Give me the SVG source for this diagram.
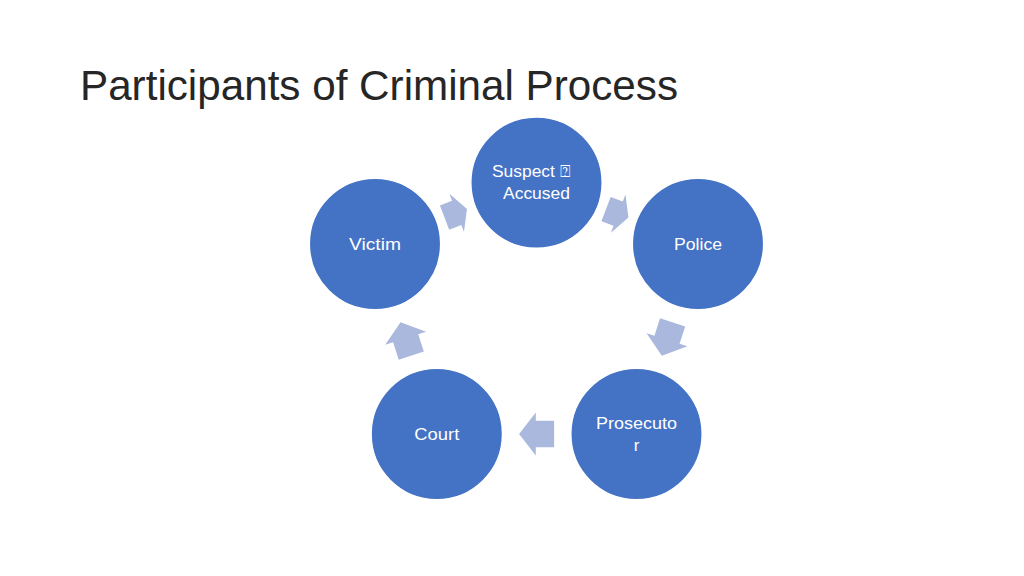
<svg xmlns="http://www.w3.org/2000/svg" width="1024" height="576" viewBox="0 0 1024 576">
<style>
.node{fill:#4472C4;stroke:#ffffff;stroke-width:1.5}
.lbl{font-family:"Liberation Sans",Arial,sans-serif;font-size:17px;fill:#ffffff;text-anchor:middle}
.arr{fill:#AAB8DD}
.title{font-family:"Liberation Sans",Arial,sans-serif;font-size:42px;fill:#262626}
</style>
<defs>
<polygon id="arrowLong" points="-17.5,-13.2 0.8,-13.2 0.8,-21.5 17.5,0 0.8,21.5 0.8,13.2 -17.5,13.2"/>
<polygon id="arrowShort" points="-12,-13 1,-13 1,-20.5 12,0 1,20.5 1,13 -12,13"/>
</defs>
<rect width="1024" height="576" fill="#ffffff"/>
<text class="title" x="80" y="100" textLength="598" lengthAdjust="spacingAndGlyphs">Participants of Criminal Process</text>
<g id="connectors">
<use href="#arrowShort" class="arr" transform="translate(455.75,213.3) rotate(-20.8)"/>
<use href="#arrowShort" class="arr" transform="translate(617.25,213.3) rotate(20.8)"/>
<use href="#arrowLong" class="arr" transform="translate(667.25,339) rotate(107.9)"/>
<use href="#arrowLong" class="arr" transform="translate(536.6,434) rotate(180)"/>
<use href="#arrowLong" class="arr" transform="translate(405.9,339) rotate(-107.9)"/>
</g>
<g id="node-suspect">
<circle class="node" cx="536.5" cy="182.6" r="65.7"/>
<text class="lbl" x="531" y="177" textLength="78" lengthAdjust="spacingAndGlyphs">Suspect <tspan font-family="'DejaVu Sans',sans-serif">⍰</tspan></text>
<text class="lbl" x="536.5" y="199" textLength="67" lengthAdjust="spacingAndGlyphs">Accused</text>
</g>
<g id="node-police">
<circle class="node" cx="698" cy="244" r="65.7"/>
<text class="lbl" x="698" y="250" textLength="48" lengthAdjust="spacingAndGlyphs">Police</text>
</g>
<g id="node-prosecutor">
<circle class="node" cx="636.5" cy="434" r="65.7"/>
<text class="lbl" x="636.5" y="429" textLength="81" lengthAdjust="spacingAndGlyphs">Prosecuto</text>
<text class="lbl" x="636.5" y="451">r</text>
</g>
<g id="node-court">
<circle class="node" cx="436.8" cy="434" r="65.7"/>
<text class="lbl" x="436.8" y="440" textLength="45" lengthAdjust="spacingAndGlyphs">Court</text>
</g>
<g id="node-victim">
<circle class="node" cx="375" cy="244" r="65.7"/>
<text class="lbl" x="375" y="250" textLength="52" lengthAdjust="spacingAndGlyphs">Victim</text>
</g>
</svg>
